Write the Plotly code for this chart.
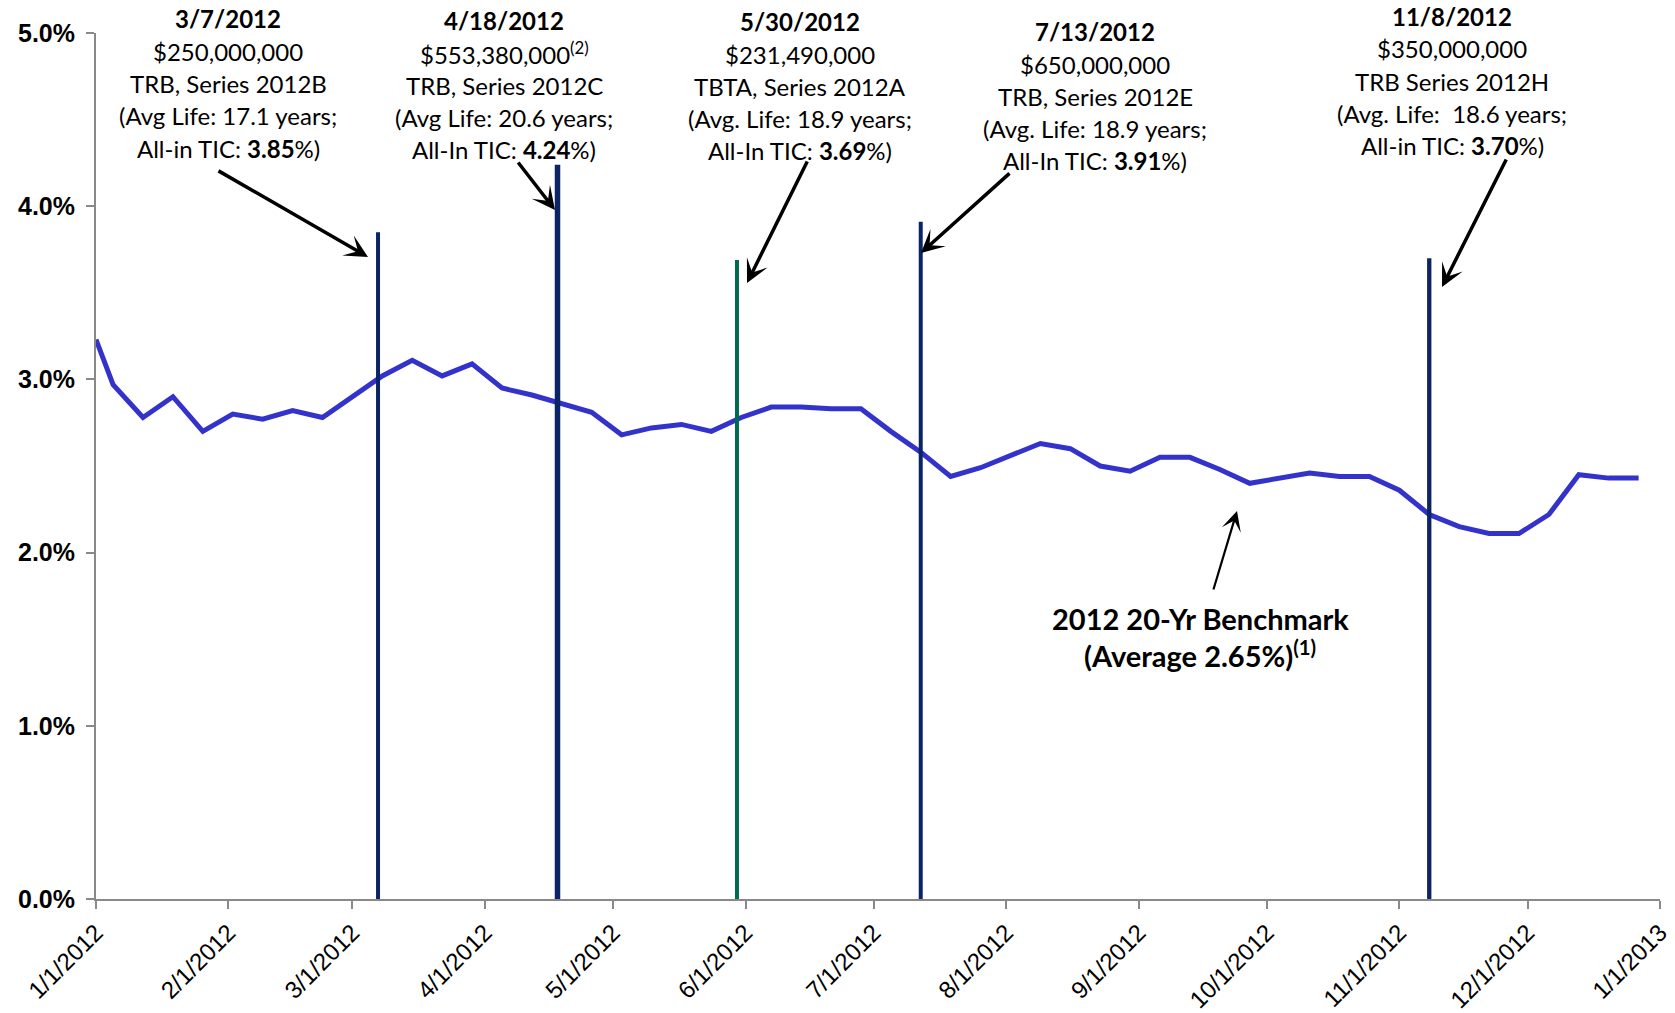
import plotly.graph_objects as go

# ---------------- data ----------------
bench_dates = [
    "2012-01-01", "2012-01-05", "2012-01-12", "2012-01-19", "2012-01-26",
    "2012-02-02", "2012-02-09", "2012-02-16", "2012-02-23", "2012-03-01",
    "2012-03-08", "2012-03-15", "2012-03-22", "2012-03-29", "2012-04-05",
    "2012-04-12", "2012-04-19", "2012-04-26", "2012-05-03", "2012-05-10",
    "2012-05-17", "2012-05-24", "2012-05-31", "2012-06-07", "2012-06-14",
    "2012-06-21", "2012-06-28", "2012-07-05", "2012-07-12", "2012-07-19",
    "2012-07-26", "2012-08-02", "2012-08-09", "2012-08-16", "2012-08-23",
    "2012-08-30", "2012-09-06", "2012-09-13", "2012-09-20", "2012-09-27",
    "2012-10-04", "2012-10-11", "2012-10-18", "2012-10-25", "2012-11-01",
    "2012-11-08", "2012-11-15", "2012-11-22", "2012-11-29", "2012-12-06",
    "2012-12-13", "2012-12-20", "2012-12-27",
]
bench_values = [
    3.23, 2.97, 2.78, 2.90, 2.70,
    2.80, 2.77, 2.82, 2.78, 2.90,
    3.02, 3.11, 3.02, 3.09, 2.95,
    2.91, 2.86, 2.81, 2.68, 2.72,
    2.74, 2.70, 2.78, 2.84, 2.84,
    2.83, 2.83, 2.70, 2.58, 2.44,
    2.49, 2.56, 2.63, 2.60, 2.50,
    2.47, 2.55, 2.55, 2.48, 2.40,
    2.43, 2.46, 2.44, 2.44, 2.36,
    2.22, 2.15, 2.11, 2.11, 2.22,
    2.45, 2.43, 2.43,
]

deal_line_dates = ["2012-03-07", "2012-04-18", "2012-05-30", "2012-07-12", "2012-11-08"]
deal_tic = [3.85, 4.24, 3.69, 3.91, 3.70]
deal_labels = ["3/7/2012", "4/18/2012", "5/30/2012", "7/13/2012", "11/8/2012"]
deal_amounts = ["$250,000,000", "$553,380,000<sup>(2)</sup>", "$231,490,000",
                "$650,000,000", "$350,000,000"]
deal_series = ["TRB, Series 2012B", "TRB, Series 2012C", "TBTA, Series 2012A",
               "TRB, Series 2012E", "TRB Series 2012H"]
deal_life = ["(Avg Life: 17.1 years;", "(Avg Life: 20.6 years;", "(Avg. Life: 18.9 years;",
             "(Avg. Life: 18.9 years;", "(Avg. Life:  18.6 years;"]
deal_tic_prefix = ["All-in TIC:", "All-In TIC:", "All-In TIC:", "All-In TIC:", "All-in TIC:"]

x_tick_dates = ["2012-01-01", "2012-02-01", "2012-03-01", "2012-04-01", "2012-05-01",
                "2012-06-01", "2012-07-01", "2012-08-01", "2012-09-01", "2012-10-01",
                "2012-11-01", "2012-12-01", "2013-01-01"]
x_tick_labels = ["1/1/2012", "2/1/2012", "3/1/2012", "4/1/2012", "5/1/2012", "6/1/2012",
                 "7/1/2012", "8/1/2012", "9/1/2012", "10/1/2012", "11/1/2012",
                 "12/1/2012", "1/1/2013"]
y_tick_vals = [0, 1, 2, 3, 4, 5]
y_tick_labels = ["0.0%", "1.0%", "2.0%", "3.0%", "4.0%", "5.0%"]

benchmark_title = "2012 20-Yr Benchmark"
benchmark_sub = "(Average 2.65%)<sup>(1)</sup>"

# ---------------- styles / layout ----------------
W, H = 1675, 1013
ML, MR, MT, MB = 96, 15, 33, 114
PW, PH = W - ML - MR, H - MT - MB

NAVY = "#0B2466"
GREEN = "#00694F"
deal_colors = [NAVY, NAVY, GREEN, NAVY, NAVY]
deal_widths = [4, 5.5, 4, 4, 4.3]

LABEL_FONT = "Lato, Carlito, 'Open Sans', sans-serif"
AXIS_FONT = "Liberation Sans, Arial, sans-serif"


def paper(px, py):
    return (px - ML) / PW, (H - MB - py) / PH


fig = go.Figure()

fig.add_trace(go.Scatter(
    x=bench_dates, y=bench_values, mode="lines",
    line=dict(color="#3333CC", width=5, shape="linear"),
    hoverinfo="x+y", showlegend=False,
))

for d, v, c, w in zip(deal_line_dates, deal_tic, deal_colors, deal_widths):
    fig.add_trace(go.Scatter(
        x=[d, d], y=[0, v], mode="lines",
        line=dict(color=c, width=w), showlegend=False, hoverinfo="x+y",
    ))

annotations = []

# deal text blocks (center x, first line center y) in pixels
block_pos = [(228, 19), (504, 20.7), (800, 21.7), (1095, 31.7), (1452, 16.7)]
LINE_H = 32.3
for i, (cx, top) in enumerate(block_pos):
    lines = [
        "<b>" + deal_labels[i] + "</b>",
        deal_amounts[i],
        deal_series[i],
        deal_life[i],
        deal_tic_prefix[i] + " <b>%.2f</b>%%)" % deal_tic[i],
    ]
    for j, t in enumerate(lines):
        xp, yp = paper(cx, top + j * LINE_H)
        annotations.append(dict(
            x=xp, y=yp, xref="paper", yref="paper", text=t, showarrow=False,
            xanchor="center", yanchor="middle",
            font=dict(family=LABEL_FONT, size=24, color="#000000"),
        ))

# arrows: head (px,py), tail (px,py)
arrows = [
    ((368, 257), (217, 170), 3.5, 1.1),
    ((555, 210), (517, 161), 3.5, 1.1),
    ((747, 283), (808, 160), 3.5, 1.1),
    ((921, 253), (1011, 172), 3.5, 1.1),
    ((1442, 287), (1507, 158), 3.5, 1.1),
    ((1237, 511), (1213, 591), 2.2, 1.5),
]
for (hx, hy), (tx, ty), aw, asz in arrows:
    xp, yp = paper(hx, hy)
    annotations.append(dict(
        x=xp, y=yp, xref="paper", yref="paper", text="", showarrow=True,
        ax=tx - hx, ay=ty - hy, axref="pixel", ayref="pixel",
        arrowhead=3, arrowsize=asz, arrowwidth=aw, arrowcolor="#000000",
        standoff=0, startstandoff=0,
    ))

# benchmark label
for t, py in [("<b>" + benchmark_title + "</b>", 618), ("<b>" + benchmark_sub + "</b>", 654)]:
    xp, yp = paper(1200, py)
    annotations.append(dict(
        x=xp, y=yp, xref="paper", yref="paper", text=t, showarrow=False,
        xanchor="center", yanchor="middle",
        font=dict(family=LABEL_FONT, size=29, color="#000000"),
    ))

fig.update_layout(
    width=W, height=H,
    margin=dict(l=ML, r=MR, t=MT, b=MB, pad=0, autoexpand=False),
    paper_bgcolor="white", plot_bgcolor="white",
    showlegend=False,
    annotations=annotations,
    xaxis=dict(
        type="date", range=["2012-01-01", "2013-01-01"], automargin=False,
        tickmode="array", tickvals=x_tick_dates, ticktext=x_tick_labels,
        tickangle=-45, ticks="outside", ticklen=8, tickwidth=2, tickcolor="#898989",
        showline=True, linecolor="#898989", linewidth=2,
        showgrid=False, zeroline=False,
        tickfont=dict(family=AXIS_FONT, size=24, color="#000000"),
    ),
    yaxis=dict(
        range=[0, 5], tickmode="array", tickvals=y_tick_vals, automargin=False,
        ticktext=["<b>" + t + "</b>" for t in y_tick_labels],
        ticks="outside", ticklen=8, tickwidth=2, tickcolor="#898989",
        showline=True, linecolor="#898989", linewidth=2,
        showgrid=False, zeroline=False, ticklabelstandoff=6,
        tickfont=dict(family=AXIS_FONT, size=25, color="#000000"),
    ),
)

fig.write_html("out.html", post_script="document.body.style.margin='0';")
